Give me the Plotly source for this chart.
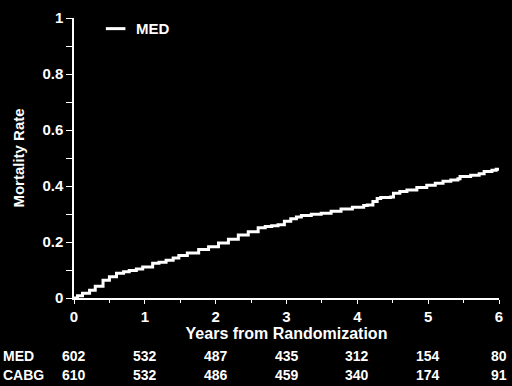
import plotly.graph_objects as go

# Kaplan-Meier style mortality curve (MED)
years = [0, 0.05, 0.12, 0.22, 0.30, 0.41, 0.50, 0.60, 0.70, 0.78, 0.88, 0.97, 1.11, 1.20, 1.30,
         1.40, 1.48, 1.60, 1.76, 1.90, 2.04, 2.18, 2.32, 2.46, 2.60, 2.70, 2.79, 2.88, 2.97,
         3.06, 3.14, 3.21, 3.35, 3.49, 3.63, 3.77, 3.93, 4.09, 4.14, 4.22, 4.28, 4.33, 4.47,
         4.51, 4.60, 4.70, 4.84, 4.98, 5.10, 5.21, 5.32, 5.42, 5.45, 5.60, 5.72, 5.79, 5.90,
         5.96, 6.0]
mortality = [0, 0.008, 0.017, 0.028, 0.042, 0.063, 0.076, 0.088, 0.094, 0.098, 0.104, 0.111,
             0.124, 0.128, 0.135, 0.143, 0.152, 0.161, 0.173, 0.183, 0.196, 0.210, 0.225,
             0.237, 0.251, 0.255, 0.258, 0.262, 0.274, 0.283, 0.289, 0.295, 0.299, 0.303,
             0.310, 0.318, 0.324, 0.330, 0.332, 0.345, 0.355, 0.359, 0.361, 0.374, 0.380,
             0.386, 0.395, 0.403, 0.410, 0.417, 0.421, 0.426, 0.434, 0.438, 0.444, 0.452,
             0.456, 0.460, 0.462]

risk_years = [0, 1, 2, 3, 4, 5, 6]
risk_med = [602, 532, 487, 435, 312, 154, 80]
risk_cabg = [610, 532, 486, 459, 340, 174, 91]

FONT = "Liberation Sans, Arial, sans-serif"
W = "white"

fig = go.Figure()
fig.add_trace(go.Scatter(x=years, y=mortality, mode="lines", name="MED",
                         line=dict(color=W, width=3, shape="hv"), showlegend=False))

ann = []
# legend (manual)
fig.add_shape(type="line", xref="paper", yref="paper", x0=0.075, x1=0.121, y0=0.962, y1=0.962,
              line=dict(color=W, width=3))
ann.append(dict(x=0.14, y=0.962, xref="paper", yref="paper", text="<b>MED</b>", showarrow=False,
                xanchor="left", yanchor="middle", font=dict(size=15, color=W, family=FONT)))

# numbers at risk
for label, vals, yp in [("MED", risk_med, -0.206), ("CABG", risk_cabg, -0.276)]:
    ann.append(dict(x=-0.1725, y=yp, xref="paper", yref="paper", text=f"<b>{label}</b>",
                    showarrow=False, xanchor="left", yanchor="middle",
                    font=dict(size=14, color=W, family=FONT)))
    for xv, v in zip(risk_years, vals):
        ann.append(dict(x=xv, y=yp, xref="x", yref="paper", text=f"<b>{v}</b>",
                        showarrow=False, xanchor="center", yanchor="middle",
                        font=dict(size=14, color=W, family=FONT)))

fig.update_layout(
    width=512, height=386,
    margin=dict(l=74, r=9, t=11, b=88),
    paper_bgcolor="black", plot_bgcolor="black",
    font=dict(family=FONT, color=W),
    annotations=ann,
    xaxis=dict(range=[0, 6], tickvals=risk_years, ticktext=[f"<b>{v}</b>" for v in risk_years],
               showgrid=False, zeroline=False, showline=True, linecolor=W, linewidth=1.5,
               ticks="outside", ticklen=4, tickcolor=W, tickwidth=1,
               minor=dict(dtick=0.5, ticks="outside", ticklen=3, tickcolor=W),
               tickfont=dict(size=15, color=W, family=FONT),
               title=dict(text="<b>Years from Randomization</b>", standoff=2,
                          font=dict(size=16, color=W, family=FONT))),
    yaxis=dict(range=[0, 1], tickvals=[0, 0.2, 0.4, 0.6, 0.8, 1],
               ticktext=["<b>0</b>", "<b>0.2</b>", "<b>0.4</b>", "<b>0.6</b>", "<b>0.8</b>", "<b>1</b>"],
               showgrid=False, zeroline=False, showline=True, linecolor=W, linewidth=1.5,
               ticks="outside", ticklen=6, tickcolor=W, tickwidth=1,
               minor=dict(dtick=0.1, ticks="outside", ticklen=6, tickcolor=W),
               tickfont=dict(size=15, color=W, family=FONT),
               title=dict(text="<b>Mortality Rate</b>", standoff=14,
                          font=dict(size=15, color=W, family=FONT))),
)

fig.write_html("out.html", config={"displayModeBar": False},
               post_script="document.body.style.margin='0';document.body.style.background='black';")
